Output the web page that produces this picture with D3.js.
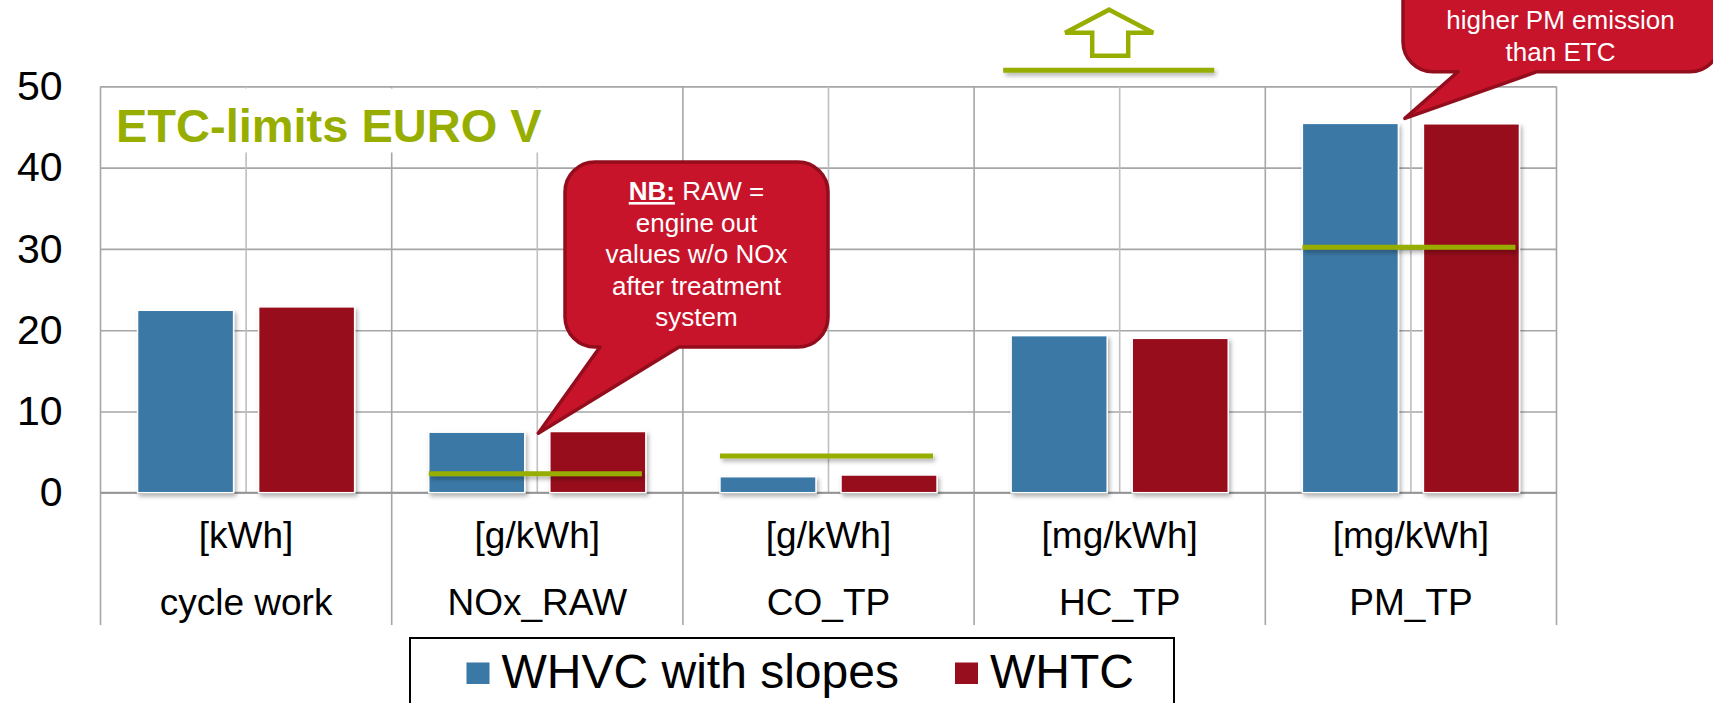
<!DOCTYPE html>
<html>
<head>
<meta charset="utf-8">
<script src="https://cdn.jsdelivr.net/npm/d3@7"></script>
<style>
  html, body { margin: 0; padding: 0; background: #fff; }
  svg { display: block; font-family: "Liberation Sans", Arial, sans-serif; }
</style>
</head>
<body>
<script>
// data
const categories = ["cycle work", "NOx_RAW", "CO_TP", "HC_TP", "PM_TP"];
const units = ["[kWh]", "[g/kWh]", "[g/kWh]", "[mg/kWh]", "[mg/kWh]"];
const seriesNames = ["WHVC with slopes", "WHTC"];
const whvc = [22.45, 7.45, 1.97, 19.33, 45.45];
const whtc = [22.87, 7.53, 2.18, 19.0, 45.4];
// ETC limits EURO V (HC is off the scale, drawn above the plot with an arrow)
const limits = [null, 2.34, 4.53, 52.0, 30.2];
const yTicks = [0, 10, 20, 30, 40, 50];

const width = 1713, height = 703;
const blue = "#3A78A6", red = "#970F1F", green = "#97AE00";
const calloutFill = "#C8142B", calloutStroke = "#930D1D";

const svg = d3.select("body").append("svg")
  .attr("width", width)
  .attr("height", height);

// drop shadow, in user space so thin horizontal lines keep it too
const defs = svg.append("defs");
const shadow = defs.append("filter").attr("id", "shadow")
  .attr("filterUnits", "userSpaceOnUse")
  .attr("x", 0).attr("y", 0).attr("width", width).attr("height", height);
shadow.append("feDropShadow")
  .attr("dx", 2).attr("dy", 3).attr("stdDeviation", 2)
  .attr("flood-color", "#000").attr("flood-opacity", 0.3);

const plotLeft = 100.5, plotRight = 1556.5, plotTop = 86.4, zero = 492.7;

const x = d3.scaleBand().domain(categories).range([plotLeft, plotRight]).padding(0);
const xs = d3.scaleBand().domain([0, 1]).range([0, x.bandwidth()])
  .paddingInner(0.2066).paddingOuter(0.306);
const y = d3.scaleLinear().domain([0, 50]).range([zero, plotTop]);

//horizontal gridlines + tick labels
const yAxis = svg.append("g")
  .attr("transform", `translate(${plotLeft},0)`)
  .call(d3.axisLeft(y).tickValues(yTicks).tickSize(-(plotRight - plotLeft)).tickPadding(38));
yAxis.select(".domain").remove();
yAxis.selectAll(".tick line").attr("stroke", "#A6A6A6").attr("stroke-width", 1.6);
yAxis.selectAll(".tick text")
  .attr("font-size", 41).attr("fill", "#000")
  .attr("font-family", "Liberation Sans, Arial, sans-serif");

//vertical gridlines: minor at category centres, major at boundaries
svg.append("g").selectAll("line")
  .data(categories)
  .enter().append("line")
  .attr("x1", d => x(d) + x.bandwidth() / 2)
  .attr("x2", d => x(d) + x.bandwidth() / 2)
  .attr("y1", plotTop).attr("y2", zero)
  .attr("stroke", "#BFBFBF").attr("stroke-width", 1.6);

const bounds = categories.map(d => x(d)).concat([plotRight]);
svg.append("g").selectAll("line")
  .data(bounds)
  .enter().append("line")
  .attr("x1", d => d).attr("x2", d => d)
  .attr("y1", plotTop).attr("y2", 625)
  .attr("stroke", "#A6A6A6").attr("stroke-width", 1.6);

//zero line
svg.append("line")
  .attr("x1", plotLeft).attr("x2", plotRight)
  .attr("y1", zero).attr("y2", zero)
  .attr("stroke", "#969696").attr("stroke-width", 1.8);

//title with white box
svg.append("rect")
  .attr("x", plotLeft + 2).attr("y", 88.5)
  .attr("width", 455).attr("height", 64)
  .attr("fill", "#fff");
svg.append("text")
  .attr("x", 116).attr("y", 141.5)
  .attr("font-size", 47).attr("font-weight", "bold")
  .attr("fill", green)
  .text("ETC-limits EURO V");

//category labels (two levels)
const labels = svg.append("g").attr("text-anchor", "middle").attr("font-size", 37).attr("fill", "#000");
labels.selectAll(".unit")
  .data(categories)
  .enter().append("text")
  .attr("class", "unit")
  .attr("x", d => x(d) + x.bandwidth() / 2)
  .attr("y", 548)
  .text((d, i) => units[i]);
labels.selectAll(".cat")
  .data(categories)
  .enter().append("text")
  .attr("class", "cat")
  .attr("x", d => x(d) + x.bandwidth() / 2)
  .attr("y", 615)
  .text(d => d);

//bars
const series = [whvc, whtc];
const colors = [blue, red];
series.forEach((vals, s) => {
  svg.append("g").selectAll("rect")
    .data(categories)
    .enter().append("rect")
    .attr("x", d => x(d) + xs(s))
    .attr("y", (d, i) => y(vals[i]))
    .attr("width", xs.bandwidth())
    .attr("height", (d, i) => zero - y(vals[i]))
    .attr("fill", colors[s])
    .attr("stroke", "#fff").attr("stroke-width", 1.5)
    .attr("filter", "url(#shadow)");
});

//limit lines
const hcShift = -8;
const limitData = categories.map((d, i) => ({ cat: d, v: limits[i], i }))
  .filter(d => d.v !== null);
svg.append("g").selectAll("line")
  .data(limitData)
  .enter().append("line")
  .attr("x1", d => x(d.cat) + xs(0) + (d.v > 50 ? hcShift : 0))
  .attr("x2", d => x(d.cat) + xs(1) + xs.bandwidth() + (d.v > 50 ? hcShift - 6 : -4))
  .attr("y1", d => y(d.v)).attr("y2", d => y(d.v))
  .attr("stroke", green).attr("stroke-width", 5)
  .attr("filter", "url(#shadow)");

//up arrow above the off-scale HC limit
const hc = limitData.find(d => d.v > 50);
const ax = x(hc.cat) + x.bandwidth() / 2 + hcShift - 2.5;
const ay = y(hc.v);
const arrow = [
  [ax, ay - 60.5], [ax + 44, ay - 37.5], [ax + 19, ay - 37.5], [ax + 19, ay - 14.5],
  [ax - 17, ay - 14.5], [ax - 17, ay - 37.5], [ax - 44, ay - 37.5]
];
svg.append("path")
  .attr("d", d3.line()(arrow) + "Z")
  .attr("fill", "#fff").attr("stroke", green).attr("stroke-width", 4.5)
  .attr("stroke-linejoin", "miter");

//callout shape: rounded box with a tail on the bottom edge
function callout(x0, y0, x1, y1, r, tb0, tb1, tip) {
  const p = d3.path();
  p.moveTo(x0 + r, y0);
  p.arcTo(x1, y0, x1, y0 + r, r);
  p.arcTo(x1, y1, x1 - r, y1, r);
  p.lineTo(tb1, y1);
  p.lineTo(tip[0], tip[1]);
  p.lineTo(tb0, y1);
  p.arcTo(x0, y1, x0, y1 - r, r);
  p.arcTo(x0, y0, x0 + r, y0, r);
  p.closePath();
  return p.toString();
}

//NB callout pointing at NOx bars
const nbTip = [x("NOx_RAW") + x.bandwidth() / 2 + 1, y(whvc[1]) + 1];
svg.append("path")
  .attr("d", callout(565, 162, 828, 347, 30, 600, 679, nbTip))
  .attr("fill", calloutFill).attr("stroke", calloutStroke).attr("stroke-width", 3.5)
  .attr("stroke-linejoin", "round");

const nbLines = ["", "engine out", "values w/o NOx", "after treatment", "system"];
const nb = svg.append("g").attr("text-anchor", "middle").attr("font-size", 26).attr("fill", "#fff");
nb.selectAll("text")
  .data(nbLines)
  .enter().append("text")
  .attr("x", 696.5)
  .attr("y", (d, i) => 200 + i * 31.6)
  .text(d => d);
const first = nb.select("text");
first.append("tspan").attr("font-weight", "bold").attr("text-decoration", "underline").text("NB:");
first.append("tspan").text(" RAW =");

//PM callout, cut off at the top right
const pmTip = [x("PM_TP") + x.bandwidth() / 2 - 6, y(whvc[4]) - 5];
svg.append("path")
  .attr("d", callout(1403, -40, 1720, 71.7, 30, 1458, 1537, pmTip))
  .attr("fill", calloutFill).attr("stroke", calloutStroke).attr("stroke-width", 3.5)
  .attr("stroke-linejoin", "round");
svg.append("g").attr("text-anchor", "middle").attr("font-size", 26).attr("fill", "#fff")
  .selectAll("text")
  .data(["higher PM emission", "than ETC"])
  .enter().append("text")
  .attr("x", 1560.5)
  .attr("y", (d, i) => 28.5 + i * 32.3)
  .text(d => d);

//legend
svg.append("rect")
  .attr("x", 410).attr("y", 638)
  .attr("width", 764).attr("height", 90)
  .attr("fill", "#fff").attr("stroke", "#000").attr("stroke-width", 2);
const legendX = [466.5, 955];
const legend = svg.append("g").selectAll("g")
  .data(seriesNames)
  .enter().append("g")
  .attr("transform", (d, i) => `translate(${legendX[i]},0)`);
legend.append("rect")
  .attr("x", 0).attr("y", 662.5)
  .attr("width", 23).attr("height", 21.5)
  .attr("fill", (d, i) => colors[i]);
legend.append("text")
  .attr("x", 35).attr("y", 688)
  .attr("font-size", 48).attr("fill", "#000")
  .text(d => d);
</script>
</body>
</html>
